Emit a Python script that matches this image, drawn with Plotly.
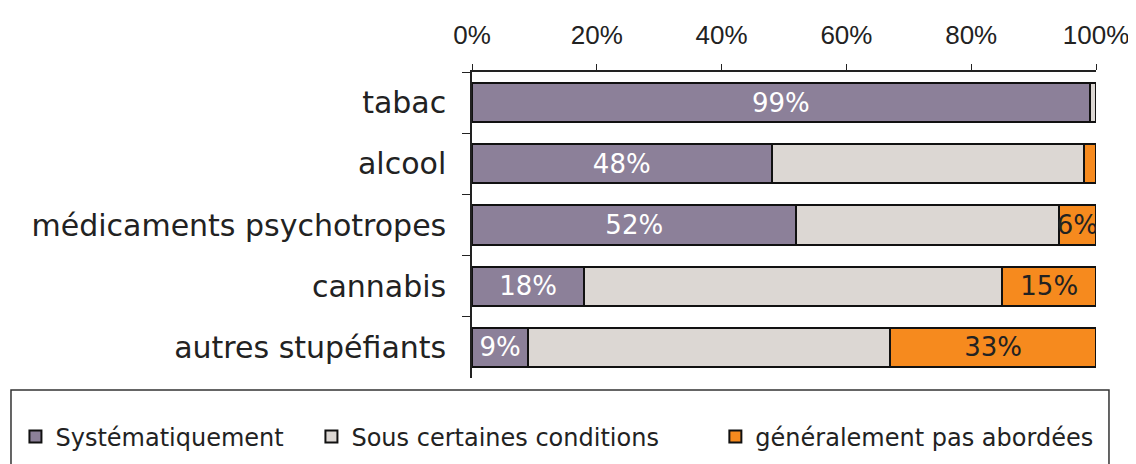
import plotly.graph_objects as go

categories = ["tabac", "alcool", "médicaments psychotropes", "cannabis", "autres stupéfiants"]
systematique = [99, 48, 52, 18, 9]
sous_conditions = [1, 50, 42, 67, 58]
pas_abordees = [0, 2, 6, 15, 33]
series_names = ["Systématiquement", "Sous certaines conditions", "généralement pas abordées"]
tick_vals = [0, 20, 40, 60, 80, 100]
tick_text = ["0%", "20%", "40%", "60%", "80%", "100%"]

# which segments get a value label (as in the original)
sys_labels = [f"{v}%" for v in systematique]
cond_labels = ["" for v in sous_conditions]
pas_labels = [f"{v}%" if v >= 5 else "" for v in pas_abordees]

FONT = "DejaVu Sans"
colors = ["#8c8099", "#dcd7d3", "#f68a1e"]
text_colors = ["white", "#222222", "#222222"]
legend_ids = ["legend", "legend2", "legend3"]
legend_x = [0.0066, 0.269, 0.6271]  # container fractions, one legend per series

# the page body adds an 8px margin, so the figure is 8px smaller than the window
W, H = 1128, 456

fig = go.Figure()
for name, vals, labels, col, tcol, lg in zip(
    series_names,
    [systematique, sous_conditions, pas_abordees],
    [sys_labels, cond_labels, pas_labels],
    colors,
    text_colors,
    legend_ids,
):
    fig.add_trace(go.Bar(
        y=categories,
        x=vals,
        name=name,
        orientation="h",
        marker=dict(color=col, line=dict(color="#111111", width=2)),
        text=labels,
        textposition="inside",
        insidetextanchor="middle",
        textangle=0,
        textfont=dict(family=FONT, size=26, color=tcol),
        hoverinfo="skip",
        legend=lg,
    ))

# legend frame (spans nearly the whole width like the original)
fig.add_shape(
    type="rect",
    xref="paper", yref="paper",
    x0=-0.7388, x1=1.0208,
    y0=-0.2843, y1=-0.0392,
    line=dict(color="#333333", width=1.5),
    fillcolor="rgba(0,0,0,0)",
)

legend_style = dict(
    xref="container", yref="container",
    xanchor="left", y=0.0592, yanchor="middle",
    font=dict(family=FONT, size=24, color="#222222"),
    bgcolor="rgba(0,0,0,0)",
    itemclick=False,
)

fig.update_layout(
    barmode="stack",
    bargap=0.36,
    width=W,
    height=H,
    margin=dict(l=464, r=40, t=64, b=86, autoexpand=False),
    paper_bgcolor="white",
    plot_bgcolor="white",
    font=dict(family=FONT, color="#222222"),
    uniformtext=dict(minsize=26, mode="show"),
    showlegend=True,
    legend=dict(x=legend_x[0], **legend_style),
    legend2=dict(x=legend_x[1], **legend_style),
    legend3=dict(x=legend_x[2], **legend_style),
)

fig.update_xaxes(
    side="top",
    range=[0, 100],
    tickvals=tick_vals,
    ticktext=tick_text,
    ticks="outside",
    ticklen=6,
    tickcolor="#222222",
    showline=True,
    linecolor="#222222",
    linewidth=1.5,
    showgrid=False,
    zeroline=False,
    tickfont=dict(family="Liberation Sans", size=26, color="#222222"),
    ticklabelstandoff=10,
)
fig.update_yaxes(
    autorange="reversed",
    ticks="outside",
    tickson="boundaries",
    ticklen=8,
    tickcolor="#222222",
    showline=True,
    linecolor="#222222",
    linewidth=1.5,
    showgrid=False,
    tickfont=dict(family=FONT, size=30, color="#222222"),
    ticklabelstandoff=18,
)

fig.write_html("out.html")
